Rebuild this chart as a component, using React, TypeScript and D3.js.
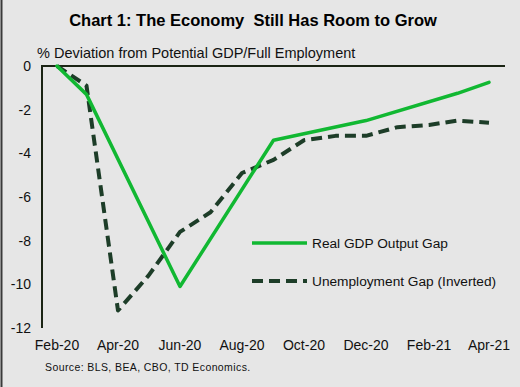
import React, { useEffect, useRef } from 'react'
import * as d3 from 'd3'

// monthly, Feb-20 .. Apr-21
const gdpMonths = ['2020-02', '2020-03', '2020-06', '2020-09', '2020-12', '2021-03', '2021-04']
const gdpGap = [0, -1.3, -10.1, -3.4, -2.5, -1.25, -0.75]

const unempMonths = [
  '2020-02', '2020-03', '2020-04', '2020-05', '2020-06', '2020-07', '2020-08', '2020-09',
  '2020-10', '2020-11', '2020-12', '2021-01', '2021-02', '2021-03', '2021-04'
]
const unempGap = [0, -0.9, -11.2, -9.6, -7.6, -6.7, -4.9, -4.3, -3.4, -3.2, -3.2, -2.8, -2.7, -2.5, -2.6]

const xTickLabels = ['Feb-20', 'Apr-20', 'Jun-20', 'Aug-20', 'Oct-20', 'Dec-20', 'Feb-21', 'Apr-21']
const yTicks = [0, -2, -4, -6, -8, -10, -12]

const W = 520
const H = 387

export default function App() {
  const svgRef = useRef<SVGSVGElement>(null)

  useEffect(() => {
    if (!svgRef.current) return
    const svg = d3.select(svgRef.current)
    svg.selectAll('*').remove()

    const parse = d3.timeParse('%Y-%m')
    const fmt = d3.timeFormat('%b-%y')

    const margin = { left: 42, right: 15, top: 66, bottom: 59 }
    const x = d3.scaleTime()
      .domain([parse('2020-02')!, parse('2021-04')!])
      .range([57, 489])
    const y = d3.scaleLinear()
      .domain([-12, 0])
      .range([H - margin.bottom, margin.top])

    const font = 'Arial, "Liberation Sans", sans-serif'

    // background
    svg.append('rect').attr('width', W).attr('height', H).attr('fill', '#e6e6e6')
    svg.append('line')
      .attr('x1', 1.5).attr('x2', 1.5).attr('y1', 0).attr('y2', H)
      .attr('stroke', '#3a3a3a').attr('stroke-width', 2)

    // title
    svg.append('text')
      .attr('x', 253).attr('y', 26)
      .attr('text-anchor', 'middle')
      .attr('font-family', font)
      .attr('font-weight', 'bold')
      .attr('font-size', 16.5)
      .attr('fill', '#000')
      .style('white-space', 'pre')
      .text('Chart 1: The Economy  Still Has Room to Grow')

    svg.append('text')
      .attr('x', 37).attr('y', 58)
      .attr('font-family', font)
      .attr('font-size', 14.5)
      .attr('fill', '#111')
      .text('% Deviation from Potential GDP/Full Employment')

    // axes lines
    svg.append('line')
      .attr('x1', margin.left).attr('x2', 505)
      .attr('y1', y(0)).attr('y2', y(0))
      .attr('stroke', '#1b2414').attr('stroke-width', 2)
    svg.append('line')
      .attr('x1', margin.left).attr('x2', margin.left)
      .attr('y1', y(0) - 1).attr('y2', y(-12))
      .attr('stroke', '#1b2414').attr('stroke-width', 2)

    // y tick labels
    svg.append('g')
      .selectAll('text')
      .data(yTicks)
      .enter()
      .append('text')
      .attr('x', 31)
      .attr('y', d => y(d))
      .attr('dy', '0.35em')
      .attr('text-anchor', 'end')
      .attr('font-family', font)
      .attr('font-size', 14)
      .attr('fill', '#111')
      .text(d => d)

    // x tick labels
    const xTickDates = xTickLabels.map(s => d3.timeParse('%b-%y')(s)!)
    svg.append('g')
      .selectAll('text')
      .data(xTickDates)
      .enter()
      .append('text')
      .attr('x', d => x(d))
      .attr('y', 350)
      .attr('text-anchor', 'middle')
      .attr('font-family', font)
      .attr('font-size', 14)
      .attr('fill', '#111')
      .text(d => fmt(d))

    const line = d3.line<[Date, number]>()
      .x(d => x(d[0]))
      .y(d => y(d[1]))
      .curve(d3.curveLinear)

    const unemp: [Date, number][] = unempMonths.map((m, i) => [parse(m)!, unempGap[i]])
    const gdp: [Date, number][] = gdpMonths.map((m, i) => [parse(m)!, gdpGap[i]])

    const green = '#11b832'
    const dark = '#1d3d28'

    svg.append('path')
      .attr('d', line(unemp))
      .attr('fill', 'none')
      .attr('stroke', dark)
      .attr('stroke-width', 4)
      .attr('stroke-linejoin', 'round')
      .attr('stroke-dasharray', '11,6')

    svg.append('path')
      .attr('d', line(gdp))
      .attr('fill', 'none')
      .attr('stroke', green)
      .attr('stroke-width', 3.5)
      .attr('stroke-linejoin', 'round')
      .attr('stroke-linecap', 'round')

    // legend
    const legend = [
      { label: 'Real GDP Output Gap', color: green, dash: null, width: 3.5, yPos: 243 },
      { label: 'Unemployment Gap (Inverted)', color: dark, dash: '11,6', width: 4, yPos: 281 }
    ]
    legend.forEach(l => {
      svg.append('line')
        .attr('x1', 252).attr('x2', 307)
        .attr('y1', l.yPos).attr('y2', l.yPos)
        .attr('stroke', l.color)
        .attr('stroke-width', l.width)
        .attr('stroke-dasharray', l.dash)
      svg.append('text')
        .attr('x', 312).attr('y', l.yPos)
        .attr('dy', '0.35em')
        .attr('font-family', font)
        .attr('font-size', 13.7)
        .attr('fill', '#111')
        .text(l.label)
    })

    svg.append('text')
      .attr('x', 45).attr('y', 371)
      .attr('font-family', font)
      .attr('font-size', 10.5)
      .attr('letter-spacing', 0.4)
      .attr('fill', '#111')
      .text('Source: BLS, BEA, CBO, TD Economics.')
  }, [])

  return (
    <svg
      ref={svgRef}
      width={W}
      height={H}
      style={{ position: 'absolute', left: 0, top: 0, display: 'block' }}
    />
  )
}
